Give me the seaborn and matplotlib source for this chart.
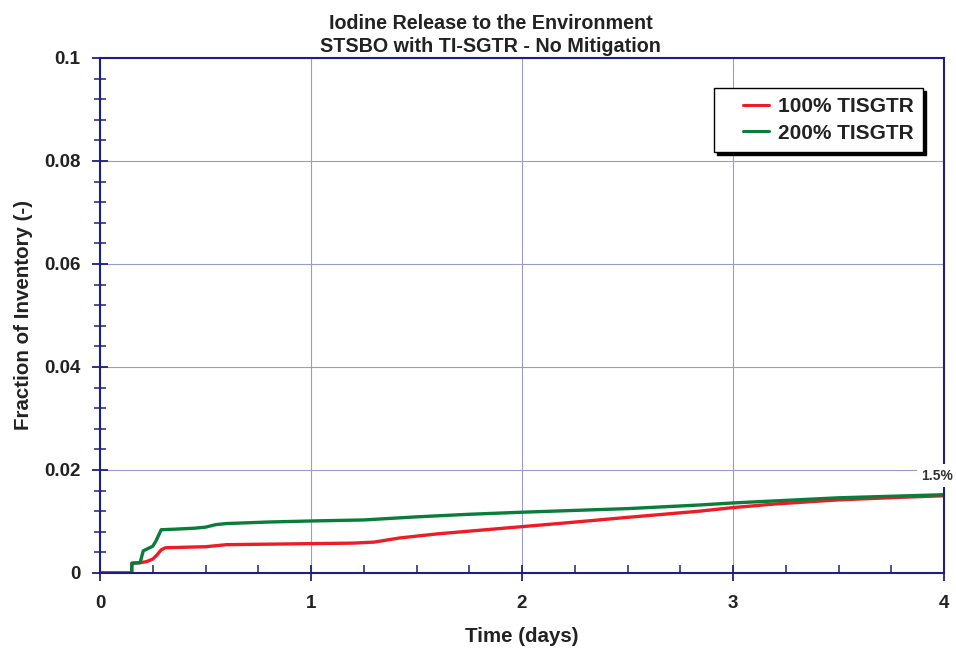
"""
Iodine release to the environment, STSBO with TI-SGTR, no mitigation
"""
import numpy as np
import pandas as pd
import matplotlib
matplotlib.use("Agg")
import matplotlib.pyplot as plt
from matplotlib.ticker import MultipleLocator, FuncFormatter
from matplotlib.legend_handler import HandlerLine2D
from matplotlib.lines import Line2D
import seaborn as sns

# 数据
t_100 = [0, 0.15, 0.151, 0.19, 0.22, 0.25, 0.27, 0.29, 0.31, 0.4, 0.5, 0.55, 0.6, 0.8,
         1.0, 1.2, 1.3, 1.42, 1.6, 1.8, 2.0, 2.2, 2.5, 2.84, 3.0, 3.2, 3.5, 3.8, 4.0]
y_100 = [0, 0, 0.0019, 0.0020, 0.0022, 0.0027, 0.0035, 0.0045, 0.0049, 0.0050, 0.0051,
         0.0053, 0.0055, 0.0056, 0.0057, 0.0058, 0.0060, 0.0068, 0.0076, 0.0083, 0.0090,
         0.0097, 0.0108, 0.0120, 0.0127, 0.0134, 0.0142, 0.0147, 0.0150]

t_200 = [0, 0.15, 0.151, 0.19, 0.205, 0.25, 0.265, 0.29, 0.35, 0.45, 0.5, 0.55, 0.6, 0.8,
         1.0, 1.25, 1.5, 1.75, 2.0, 2.5, 2.84, 3.0, 3.5, 4.0]
y_200 = [0, 0, 0.0019, 0.0020, 0.0043, 0.0052, 0.0062, 0.0084, 0.0085, 0.0087, 0.0089,
         0.0094, 0.0096, 0.0099, 0.0101, 0.0103, 0.0109, 0.0114, 0.0118, 0.0125, 0.0132,
         0.0136, 0.0146, 0.0152]

series_names = ["100% TISGTR", "200% TISGTR"]
colors = ["#ee1c25", "#0b7d3b"]
end_label = "1.5%"

df = pd.concat([
    pd.DataFrame({"t": t_100, "frac": y_100, "case": series_names[0]}),
    pd.DataFrame({"t": t_200, "frac": y_200, "case": series_names[1]}),
], ignore_index=True)

sns.set_style("white")
plt.rcParams['font.family'] = ['Liberation Sans', 'DejaVu Sans']
plt.rcParams['font.weight'] = 'bold'

navy = "#1f1f80"
fig = plt.figure(figsize=(9.56, 6.55), dpi=100)
ax = fig.add_axes([0.1046, 0.1252, 0.8829, 0.7863])

sns.lineplot(data=df, x="t", y="frac", hue="case", palette=colors,
             hue_order=series_names, linewidth=2.4, ax=ax, sort=False)

ax.set_xlim(0, 4)
ax.set_ylim(0, 0.1)
ax.xaxis.set_major_locator(MultipleLocator(1))
ax.xaxis.set_minor_locator(MultipleLocator(0.25))
ax.yaxis.set_major_locator(MultipleLocator(0.02))
ax.yaxis.set_minor_locator(MultipleLocator(0.004))
ax.yaxis.set_major_formatter(FuncFormatter(lambda v, p: f"{v:g}"))
ax.xaxis.set_major_formatter(FuncFormatter(lambda v, p: f"{v:g}"))

ax.grid(True, which='major', color="#9c9ccc", linewidth=0.8)
for s in ax.spines.values():
    s.set_color(navy)
    s.set_linewidth(1.5)
ax.tick_params(which='both', bottom=True, left=True, top=False, right=False)
ax.tick_params(axis='both', which='major', direction='inout', length=12, width=1.3,
               color=navy, labelsize=13.5)
ax.tick_params(axis='x', which='major', pad=10)
ax.tick_params(axis='y', which='major', pad=8)
ax.tick_params(axis='y', which='minor', direction='inout', length=9, width=1.1, color=navy)
ax.tick_params(axis='x', which='minor', direction='in', length=6, width=1.1, color=navy)
for lab in ax.get_xticklabels() + ax.get_yticklabels():
    lab.set_fontweight('bold')
    lab.set_color("#222222")

ax.set_xlabel("Time (days)", fontsize=14.8, fontweight='bold', labelpad=11, color="#222222")
ax.set_ylabel("Fraction of Inventory (-)", fontsize=14.8, fontweight='bold', labelpad=8,
              color="#222222")
fig.text(0.513, 0.978, "Iodine Release to the Environment\nSTSBO with TI-SGTR - No Mitigation",
         ha='center', va='top', fontsize=14.2, fontweight='bold', linespacing=1.25,
         color="#222222")

ax.text(3.965, 0.0189, end_label, ha='center', va='center', fontsize=10, fontweight='bold',
        color="#333333", clip_on=False,
        bbox=dict(facecolor='white', edgecolor='none', pad=3))

# 图例：左侧留白更宽
leg = ax.legend(loc='upper right', bbox_to_anchor=(0.975, 0.9417), borderaxespad=0,
                frameon=True, fancybox=False, shadow={'color': 'black', 'alpha': 1},
                prop={'weight': 'bold', 'size': 15}, handlelength=2.2,
                handler_map={Line2D: HandlerLine2D(xpad=0.95)},
                borderpad=0.45, labelspacing=0.35, handletextpad=0.42)
leg.get_frame().set_edgecolor('black')
leg.get_frame().set_linewidth(1)
for line in leg.get_lines():
    line.set_linewidth(2.2)
for txt in leg.get_texts():
    txt.set_color("#222222")

fig.savefig("out.png", dpi=100)
plt.close(fig)
print("[DONE]")
